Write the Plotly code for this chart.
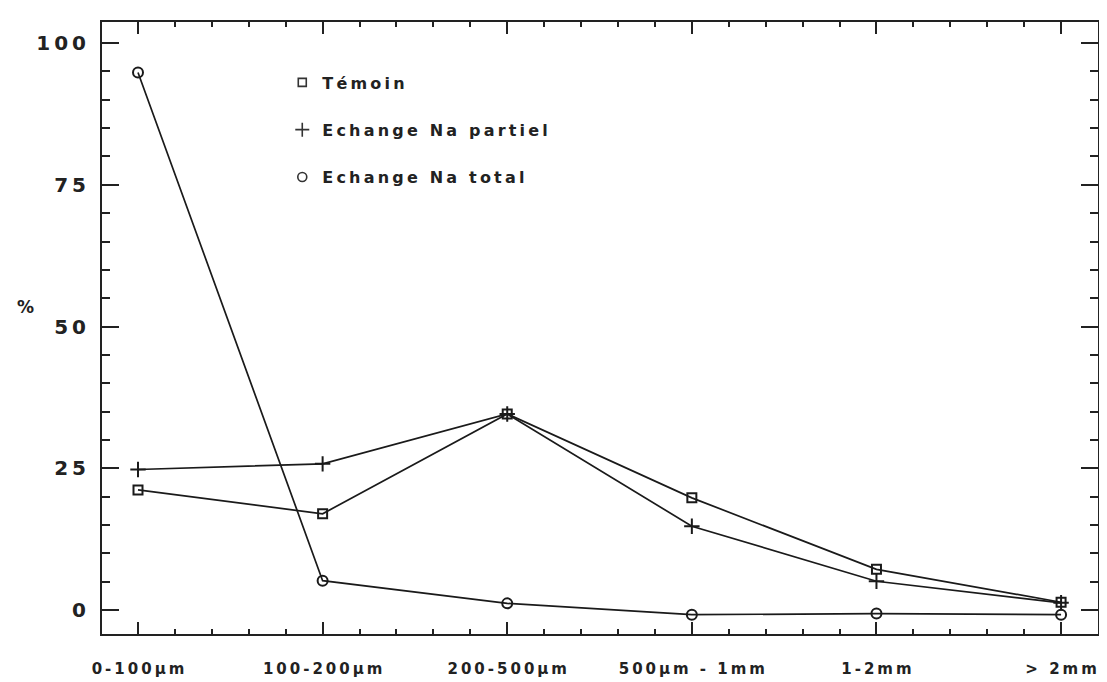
import plotly.graph_objects as go

categories = ["0-100µm", "100-200µm", "200-500µm", "500µm - 1mm", "1-2mm", "> 2mm"]
temoin = [21.2, 17.0, 34.6, 19.8, 7.2, 1.4]
partiel = [24.8, 25.8, 34.6, 14.8, 5.1, 1.3]
total = [94.8, 5.2, 1.2, -0.8, -0.6, -0.8]
y_ticks = [0, 25, 50, 75, 100]
series_names = ["Témoin", "Echange Na partiel", "Echange Na total"]

def spaced(s):
    return "\u2009".join(list(s))

x = list(range(len(categories)))
FONT = "DejaVu Sans"

fig = go.Figure()
specs = [
    (temoin, "square-open", 9),
    (partiel, "cross-thin-open", 11),
    (total, "circle-open", 10),
]
for (vals, sym, sz), name in zip(specs, series_names):
    fig.add_trace(go.Scatter(
        x=x, y=vals, mode="lines+markers", showlegend=False,
        line=dict(color="#1a1a1a", width=1.7),
        marker=dict(symbol=sym, size=sz, color="#1a1a1a", line=dict(width=2, color="#1a1a1a")),
    ))
for i, ((vals, sym, sz), name) in enumerate(zip(specs, series_names)):
    fig.add_trace(go.Scatter(
        x=[None], y=[None], mode="markers", name=spaced(name), legendgroup=f"g{i}",
        marker=dict(symbol=sym, size=sz - 1, color="#333", line=dict(width=1.6, color="#333")),
    ))

fig.update_layout(
    width=1107, height=682,
    margin=dict(l=94, r=17, t=12, b=52),
    paper_bgcolor="white", plot_bgcolor="white",
    font=dict(family=FONT, color="#222"),
    showlegend=True,
    legend=dict(x=0.181, y=0.929, xanchor="left", yanchor="top",
                font=dict(size=16, family=FONT, weight="bold", color="#222"),
                tracegroupgap=23.5, bgcolor="rgba(0,0,0,0)", itemwidth=30),
    xaxis=dict(
        range=[-0.195, 5.20], tickmode="array", tickvals=x,
        ticktext=[spaced(c) for c in categories],
        showline=True, linecolor="#222", linewidth=2, mirror="allticks",
        ticks="inside", ticklen=12, tickwidth=1.5, tickcolor="#222",
        minor=dict(ticks="inside", dtick=0.2, ticklen=5, tickwidth=1.5, tickcolor="#222", showgrid=False),
        showgrid=False, zeroline=False,
        tickfont=dict(size=15, family=FONT, weight="bold", color="#222"),
        ticklabelstandoff=20,
    ),
    yaxis=dict(
        range=[-4.2, 103.7], tickmode="array", tickvals=y_ticks,
        ticktext=[spaced(str(v)) for v in y_ticks],
        showline=True, linecolor="#222", linewidth=2, mirror="allticks",
        ticks="inside", ticklen=17, tickwidth=1.5, tickcolor="#222",
        minor=dict(ticks="inside", dtick=5, ticklen=8, tickwidth=1.5, tickcolor="#222", showgrid=False),
        showgrid=False, zeroline=False,
        tickfont=dict(size=20, family=FONT, weight="bold", color="#222"),
        ticklabelstandoff=10,
    ),
    annotations=[dict(text="%", xref="paper", yref="paper", x=-0.066, y=0.535,
                      xanchor="right", showarrow=False,
                      font=dict(size=17, family=FONT, weight="bold", color="#222"))],
)

fig.write_html("out.html")
